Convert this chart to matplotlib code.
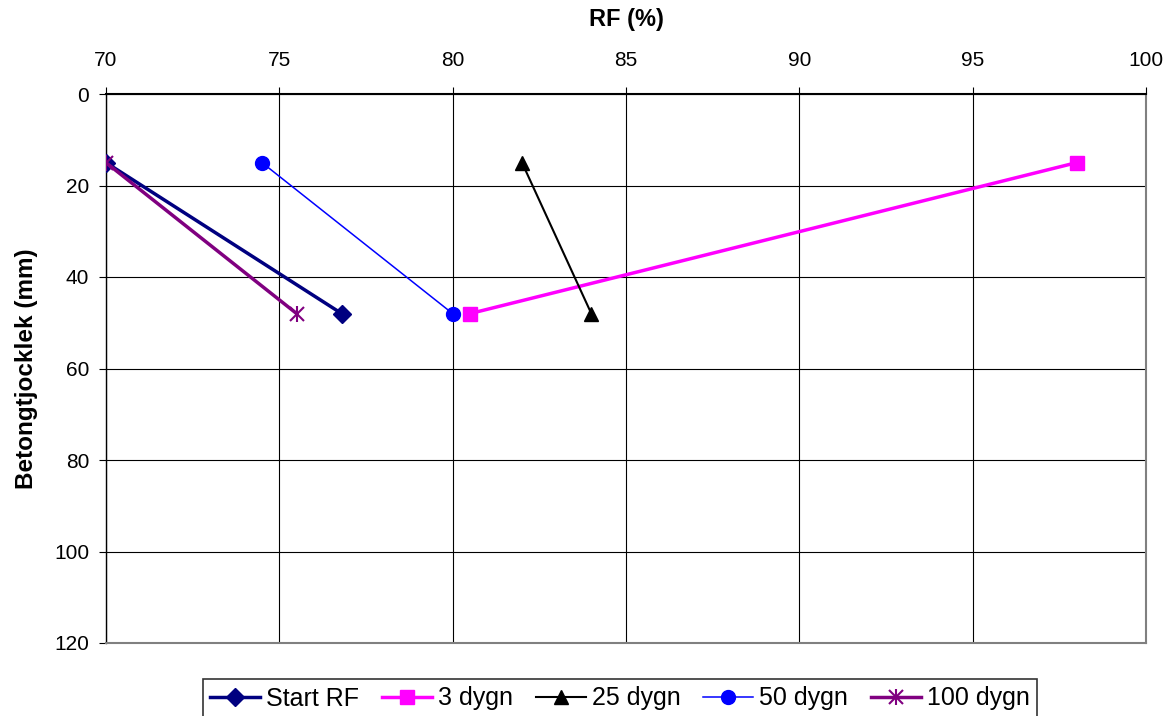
import numpy as np
import matplotlib.pyplot as plt

plt.rcParams['font.family'] = ['Liberation Sans', 'DejaVu Sans']

depth = [15, 48]
start_rf = [70.0, 76.8]
dygn3 = [98.0, 80.5]
dygn25 = [82.0, 84.0]
dygn50 = [74.5, 80.0]
dygn100 = [70.0, 75.5]

fig = plt.figure(figsize=(11.76, 7.16), dpi=100)
ax = fig.add_axes([106/1176, 1-643/716, (1146-106)/1176, (643-94)/716])

ax.plot(start_rf, depth, color='#000080', lw=2.5, marker='D', ms=9, label='Start RF', zorder=4)
ax.plot(dygn3, depth, color='#ff00ff', lw=2.5, marker='s', ms=10, label='3 dygn', zorder=3)
ax.plot(dygn25, depth, color='black', lw=1.5, marker='^', ms=10, label='25 dygn', zorder=3)
ax.plot(dygn50, depth, color='#0000ff', lw=1.1, marker='o', ms=10, label='50 dygn', zorder=3)
ax.plot(dygn100, depth, color='#800080', lw=2.5, marker='x', ms=10, mew=1.5, label='100 dygn', zorder=5)
ax.plot(dygn100, depth, color='#800080', lw=0, marker='|', ms=12, mew=1.5, zorder=5)

ax.set_xlim(70, 100)
ax.set_ylim(120, 0)
ax.set_xticks(np.arange(70, 101, 5))
ax.set_yticks(np.arange(0, 121, 20))
ax.xaxis.tick_top()
ax.xaxis.set_label_position('top')
ax.grid(True, color='black', lw=0.8)
ax.spines['top'].set_linewidth(1.5)
ax.spines['left'].set_linewidth(1.0)
for s in ['bottom', 'right']:
    ax.spines[s].set_color('#808080')
    ax.spines[s].set_linewidth(1.5)
ax.tick_params(labelsize=15, length=5, direction='out')
ax.tick_params(axis='x', pad=12)
ax.tick_params(axis='y', pad=7)
ax.set_xlabel('RF (%)', fontsize=17, fontweight='bold', labelpad=18)
ax.set_ylabel('Betongtjocklek (mm)', fontsize=17.5, fontweight='bold', labelpad=12)

h, l = ax.get_legend_handles_labels()
h[4] = (h[4], ax.lines[5])
leg = fig.legend(h, l, loc='upper center', bbox_to_anchor=(620/1176, 1-679/716), ncol=5,
                 fontsize=18, frameon=True, fancybox=False, edgecolor='black',
                 borderaxespad=0, handlelength=2.0, handletextpad=0.25,
                 columnspacing=0.9, borderpad=0.3)
leg.get_frame().set_linewidth(1.2)

fig.savefig('out.png', dpi=100)
